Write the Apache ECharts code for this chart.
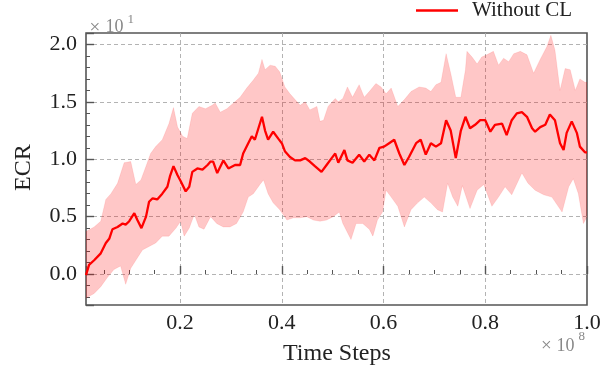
<!DOCTYPE html>
<html>
<head>
<meta charset="utf-8">
<script src="https://cdn.jsdelivr.net/npm/echarts@6/dist/echarts.min.js"></script>
<style>html,body{margin:0;padding:0;background:#fff;}#c{width:609px;height:365px;}</style>
</head>
<body>
<div id="c"></div>
<script>
// x in units of 1e8 time steps, y in units of 10 (ECR)
var meanX = [0.015,0.021,0.031,0.044,0.054,0.061,0.067,0.077,0.087,0.093,0.100,0.110,0.116,0.124,0.133,0.139,0.146,0.155,0.165,0.175,0.180,0.187,0.195,0.201,0.211,0.218,0.224,0.234,0.244,0.254,0.260,0.265,0.273,0.285,0.295,0.308,0.318,0.324,0.334,0.341,0.347,0.354,0.361,0.367,0.373,0.383,0.393,0.400,0.406,0.416,0.426,0.436,0.446,0.455,0.465,0.478,0.488,0.498,0.505,0.511,0.523,0.529,0.539,0.552,0.562,0.572,0.582,0.592,0.601,0.611,0.621,0.631,0.641,0.650,0.664,0.673,0.683,0.693,0.703,0.713,0.723,0.732,0.742,0.752,0.761,0.770,0.780,0.790,0.800,0.810,0.819,0.833,0.842,0.852,0.862,0.872,0.882,0.892,0.898,0.908,0.918,0.927,0.937,0.947,0.954,0.960,0.970,0.980,0.986,0.996,1.000];
var meanY = [-0.01,0.08,0.12,0.18,0.27,0.31,0.39,0.41,0.44,0.43,0.46,0.53,0.47,0.40,0.50,0.63,0.66,0.65,0.70,0.76,0.85,0.94,0.86,0.81,0.72,0.76,0.89,0.92,0.91,0.95,0.98,0.98,0.88,0.99,0.92,0.95,0.95,1.05,1.14,1.20,1.17,1.27,1.37,1.25,1.17,1.24,1.18,1.14,1.07,1.02,0.99,0.99,1.01,0.98,0.94,0.89,0.95,1.01,1.05,0.97,1.08,0.99,0.97,1.04,0.98,1.04,0.99,1.10,1.11,1.14,1.17,1.05,0.95,1.02,1.14,1.17,1.04,1.14,1.11,1.14,1.34,1.25,1.01,1.25,1.37,1.27,1.30,1.34,1.34,1.24,1.30,1.31,1.21,1.34,1.40,1.41,1.37,1.27,1.24,1.28,1.30,1.39,1.34,1.14,1.08,1.23,1.33,1.23,1.11,1.06,1.06];

var upperX = [0.015,0.031,0.044,0.054,0.064,0.077,0.090,0.103,0.113,0.123,0.133,0.142,0.152,0.165,0.178,0.187,0.195,0.205,0.214,0.224,0.237,0.250,0.263,0.269,0.279,0.292,0.305,0.318,0.331,0.344,0.354,0.361,0.367,0.377,0.387,0.396,0.406,0.416,0.426,0.436,0.446,0.455,0.469,0.475,0.482,0.491,0.505,0.511,0.520,0.529,0.539,0.552,0.562,0.572,0.585,0.595,0.605,0.615,0.628,0.641,0.654,0.670,0.683,0.693,0.703,0.713,0.723,0.732,0.742,0.752,0.761,0.764,0.774,0.784,0.793,0.803,0.816,0.826,0.836,0.846,0.856,0.869,0.882,0.895,0.908,0.921,0.929,0.937,0.947,0.957,0.967,0.977,0.986,0.996,1.000];
var upperY = [0.37,0.41,0.46,0.65,0.70,0.79,0.97,0.98,0.78,0.82,0.94,1.05,1.11,1.17,1.31,1.45,1.28,1.20,1.18,1.40,1.46,1.44,1.47,1.49,1.41,1.44,1.49,1.54,1.62,1.69,1.75,1.87,1.78,1.82,1.81,1.76,1.63,1.57,1.52,1.47,1.50,1.43,1.46,1.33,1.34,1.46,1.53,1.50,1.53,1.63,1.54,1.65,1.54,1.59,1.66,1.63,1.57,1.62,1.46,1.52,1.59,1.63,1.62,1.59,1.65,1.67,1.92,1.75,1.54,1.54,1.78,1.94,1.89,1.83,1.89,1.91,1.94,1.82,1.88,1.85,1.92,1.94,1.91,1.75,1.87,1.98,2.08,1.95,1.60,1.79,1.78,1.60,1.70,1.67,1.67];

var lowerX = [0.015,0.031,0.044,0.057,0.070,0.083,0.093,0.103,0.113,0.126,0.139,0.152,0.165,0.178,0.192,0.201,0.208,0.218,0.228,0.237,0.247,0.260,0.272,0.285,0.298,0.311,0.324,0.334,0.344,0.357,0.364,0.373,0.383,0.396,0.410,0.423,0.436,0.449,0.462,0.475,0.488,0.501,0.513,0.520,0.536,0.546,0.559,0.572,0.579,0.588,0.598,0.605,0.615,0.628,0.641,0.654,0.667,0.680,0.693,0.706,0.716,0.726,0.736,0.746,0.755,0.770,0.784,0.797,0.813,0.826,0.839,0.852,0.872,0.884,0.898,0.915,0.931,0.951,0.964,0.973,0.983,0.993,1.000];
var lowerY = [-0.21,-0.17,-0.11,-0.03,0.04,0.07,-0.09,0.05,0.12,0.21,0.24,0.27,0.33,0.33,0.40,0.46,0.33,0.40,0.52,0.41,0.39,0.50,0.44,0.41,0.41,0.44,0.54,0.67,0.70,0.78,0.82,0.70,0.62,0.56,0.47,0.49,0.49,0.50,0.47,0.46,0.47,0.50,0.54,0.44,0.30,0.44,0.44,0.39,0.33,0.47,0.54,0.73,0.67,0.59,0.41,0.56,0.62,0.67,0.62,0.56,0.54,0.79,0.67,0.59,0.77,0.57,0.73,0.78,0.59,0.67,0.76,0.69,0.88,0.79,0.73,0.69,0.67,0.54,0.76,0.83,0.70,0.44,0.50];

var xTickLabels = ['0.2','0.4','0.6','0.8','1.0'];
var yTickLabels = ['0.0','0.5','1.0','1.5','2.0'];
var seriesName = 'Without CL';

var chart = echarts.init(document.getElementById('c'), null, {renderer:'canvas'});
var serif = 'Liberation Serif';
var meanData = meanX.map(function(x,i){return [x, meanY[i]];});

var option = {
  animation:false,
  backgroundColor:'#fff',
  grid:{left:86, top:33, right:22, bottom:60, show:true, borderColor:'#555', borderWidth:1.6, backgroundColor:'transparent'},
  legend:{
    data:[{name:seriesName, icon:'rect'}],
    left:411, top:-5, itemWidth:42, itemHeight:2.5,
    textStyle:{fontFamily:serif, fontSize:21, color:'#222', padding:[0,0,0,9]}
  },
  xAxis:{
    type:'value', min:0.015, max:1.0,
    axisLine:{show:false},
    axisTick:{show:true, inside:true, length:8, lineStyle:{color:'#555', width:1.4}},
    minorTick:{show:true, splitNumber:4, length:4, lineStyle:{color:'#555', width:1}},
    axisLabel:{show:true, showMinLabel:false, fontFamily:serif, fontSize:22, color:'#222', margin:7,
      formatter:function(v){var s=v.toFixed(1); return xTickLabels.indexOf(s)>=0?s:'';}},
    splitLine:{show:true, showMinLine:false, showMaxLine:false, lineStyle:{color:'#aaa', type:[4,3], width:0.9}}
  },
  yAxis:{
    type:'value', min:-0.27, max:2.1,
    axisLine:{show:false},
    axisTick:{show:true, inside:true, length:8, lineStyle:{color:'#555', width:1.4}},
    minorTick:{show:true, splitNumber:5, length:4, lineStyle:{color:'#555', width:1}},
    axisLabel:{show:true, showMinLabel:false, showMaxLabel:false, fontFamily:serif, fontSize:22, color:'#222', margin:9,
      formatter:function(v){var s=v.toFixed(1); return yTickLabels.indexOf(s)>=0?s:'';}},
    splitLine:{show:true, showMinLine:false, showMaxLine:false, lineStyle:{color:'#aaa', type:[4,3], width:0.9}}
  },
  graphic:[
    {type:'text', left:283, top:342, style:{text:'Time Steps', font:'24px "Liberation Serif"', fill:'#222'}},
    {type:'text', rotation:Math.PI/2, x:12, y:191, style:{text:'ECR', font:'24px "Liberation Serif"', fill:'#222'}},
    {type:'text', x:89.5, y:18.5, style:{text:'×', font:'19px "Liberation Serif"', fill:'#888'}},
    {type:'text', x:105.5, y:18.5, style:{text:'10', font:'18px "Liberation Serif"', fill:'#888'}},
    {type:'text', x:127.5, y:13.5, style:{text:'1', font:'13px "Liberation Serif"', fill:'#888'}},
    {type:'text', x:541, y:337, style:{text:'×', font:'19px "Liberation Serif"', fill:'#888'}},
    {type:'text', x:556.5, y:337, style:{text:'10', font:'18px "Liberation Serif"', fill:'#888'}},
    {type:'text', x:578.5, y:330, style:{text:'8', font:'13px "Liberation Serif"', fill:'#888'}}
  ],
  series:[
    {
      type:'custom', name:'band', silent:true, z:1, clip:true,
      data:[[0.5,1.0]],
      renderItem:function(params, api){
        var pts=[], i;
        for(i=0;i<upperX.length;i++) pts.push(api.coord([upperX[i], upperY[i]]));
        for(i=lowerX.length-1;i>=0;i--) pts.push(api.coord([lowerX[i], lowerY[i]]));
        return {type:'polygon', shape:{points:pts}, style:{fill:'rgba(255,0,0,0.22)', stroke:'rgba(255,0,0,0.12)', lineWidth:0.8}};
      }
    },
    {
      type:'line', name:seriesName, data:meanData, showSymbol:false, symbol:'none', z:3,
      itemStyle:{color:'#ff0000'},
      lineStyle:{color:'#ff0000', width:2.3}
    }
  ]
};
chart.setOption(option);
</script>
</body>
</html>
